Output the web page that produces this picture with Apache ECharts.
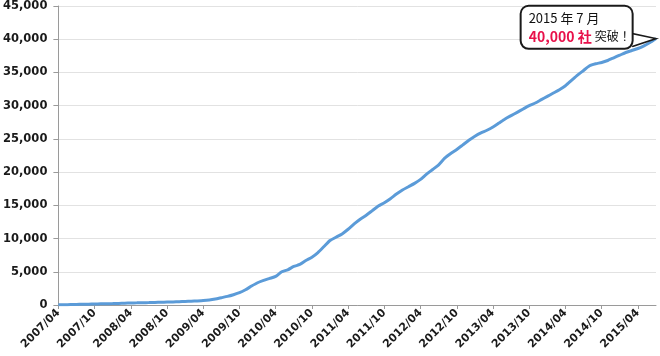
<!DOCTYPE html>
<html>
<head>
<meta charset="utf-8">
<script src="https://cdn.jsdelivr.net/npm/echarts@6/dist/echarts.min.js"></script>
<style>
  html, body { margin: 0; padding: 0; background: #fff; }
  #chart { width: 660px; height: 356px; }
</style>
</head>
<body>
<div id="chart"></div>
<script>
// months 2007/04 .. 2015/07
const months = [];
for (let y = 2007; y <= 2015; y++) {
  for (let m = 1; m <= 12; m++) {
    if (y === 2007 && m < 4) continue;
    if (y === 2015 && m > 7) continue;
    months.push(y + "/" + String(m).padStart(2, "0"));
  }
}

// companies
const companies = [
  30, 40, 60, 80, 110, 130, 150, 170, 190, 210, 240, 270,
  300, 320, 340, 360, 390, 420, 440, 460, 490, 530, 570, 610,
  660, 750, 900, 1100, 1300, 1550, 1850, 2300, 2850, 3350, 3700, 4000,
  4300, 5000, 5300, 5800, 6100, 6700, 7200, 7900, 8800, 9700, 10200, 10700,
  11400, 12200, 12900, 13500, 14200, 14900, 15400, 16000, 16700, 17300, 17800, 18300,
  18900, 19700, 20400, 21100, 22100, 22800, 23400, 24100, 24800, 25400, 25900, 26300,
  26800, 27400, 28000, 28500, 29000, 29500, 30000, 30400, 30900, 31400, 31900, 32400,
  33000, 33800, 34600, 35300, 36000, 36300, 36500, 36800, 37200, 37600, 38000, 38300,
  38600, 39000, 39500, 40100
];

const yTicks = { min: 0, max: 45000, interval: 5000 };

const calloutLine1 = "2015 年 7 月";
const calloutCount = "40,000 社";
const calloutTail = "突破！";

const chart = echarts.init(document.getElementById("chart"), null, { renderer: "canvas" });

chart.setOption({
  animation: false,
  grid: { left: 57, right: 4, top: 5, bottom: 51 },
  xAxis: {
    type: "category",
    data: months,
    boundaryGap: false,
    axisLine: { lineStyle: { color: "#9a9a9a", width: 1 } },
    axisTick: { interval: 5, length: 4, lineStyle: { color: "#9a9a9a" } },
    axisLabel: {
      interval: 5,
      rotate: 45,
      color: "#1a1a1a",
      fontFamily: "DejaVu Sans",
      fontWeight: "bold",
      fontSize: 11,
      margin: 6
    },
    splitLine: { show: false }
  },
  yAxis: {
    type: "value",
    min: yTicks.min,
    max: yTicks.max,
    interval: yTicks.interval,
    axisLine: { show: true, lineStyle: { color: "#9a9a9a", width: 1 } },
    axisTick: { show: true, length: 5, lineStyle: { color: "#9a9a9a" } },
    axisLabel: {
      color: "#1a1a1a",
      fontFamily: "DejaVu Sans",
      fontWeight: "bold",
      fontSize: 11.5,
      margin: 11,
      formatter: v => v.toLocaleString("en-US")
    },
    splitLine: { lineStyle: { color: "#e2e2e2", width: 1 } }
  },
  series: [{
    type: "line",
    data: companies,
    showSymbol: false,
    smooth: 0.2,
    lineStyle: { color: "#5b9bd8", width: 3 },
    itemStyle: { color: "#5b9bd8" },
    markPoint: {
      silent: true,
      data: [{
        coord: [months[months.length - 1], companies[companies.length - 1]],
        // speech-bubble tail, tip on the last point
        symbol: "path://M0,0 L24,5 L0,13",
        symbolSize: [24, 13],
        symbolOffset: [-12, 1.5],
        itemStyle: { color: "#fff", borderColor: "#1a1a1a", borderWidth: 2 },
        label: {
          show: true,
          position: [-109, -26],
          align: "left",
          verticalAlign: "top",
          backgroundColor: "#fff",
          borderColor: "#1a1a1a",
          borderWidth: 2,
          borderRadius: 7,
          padding: [3, 4, 2, 7],
          width: 99,
          overflow: "none",
          formatter: "{a|" + calloutLine1 + "}\n{r|" + calloutCount + "}{b|" + calloutTail + "}",
          rich: {
            a: { fontFamily: "Noto Sans CJK JP", fontSize: 13, color: "#111", lineHeight: 17 },
            r: { fontFamily: "Noto Sans CJK JP", fontSize: 14, fontWeight: "bold", color: "#e8114a", lineHeight: 19 },
            b: { fontFamily: "Noto Sans CJK JP", fontSize: 12, color: "#111", lineHeight: 19, padding: [0, 0, 0, 3] }
          }
        }
      }]
    }
  }]
});
</script>
</body>
</html>
